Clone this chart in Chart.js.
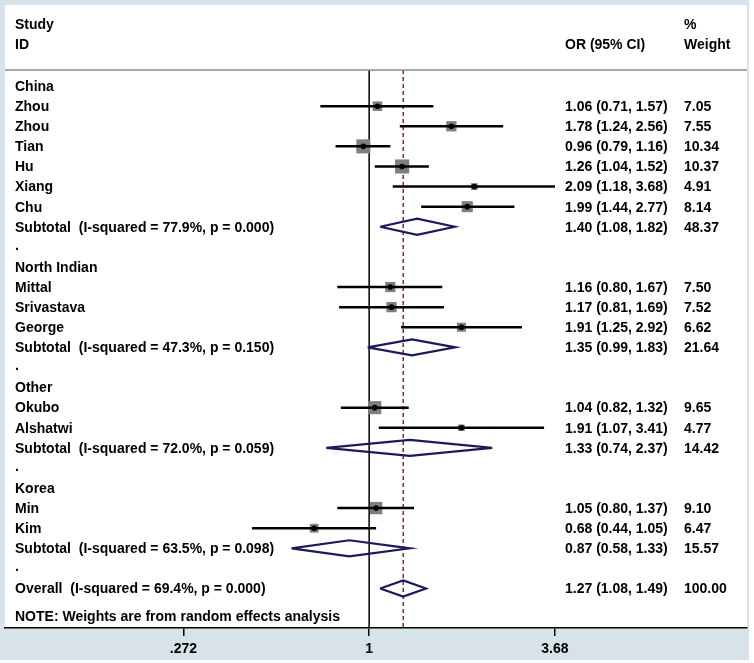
<!DOCTYPE html>
<html>
<head>
<meta charset="utf-8">
<script src="https://cdn.jsdelivr.net/npm/chart.js@4.4.0/dist/chart.umd.min.js"></script>
<style>
  html, body { margin: 0; padding: 0; background: #fff; }
  #wrap { width: 754px; height: 663px; }
</style>
</head>
<body>
<div id="wrap"><canvas id="forest" width="754" height="663"></canvas></div>
<script>
// study level estimates (OR, 95% CI, % weight)
const studyNames = ["Zhou", "Zhou", "Tian", "Hu", "Xiang", "Chu", "Mittal", "Srivastava", "George", "Okubo", "Alshatwi", "Min", "Kim"];
const studyGroup = [0, 0, 0, 0, 0, 0, 1, 1, 1, 2, 2, 3, 3];
const studyOR = [1.06, 1.78, 0.96, 1.26, 2.09, 1.99, 1.16, 1.17, 1.91, 1.04, 1.91, 1.05, 0.68];
const studyLow = [0.71, 1.24, 0.79, 1.04, 1.18, 1.44, 0.80, 0.81, 1.25, 0.82, 1.07, 0.80, 0.44];
const studyHigh = [1.57, 2.56, 1.16, 1.52, 3.68, 2.77, 1.67, 1.69, 2.92, 1.32, 3.41, 1.37, 1.05];
const studyWeight = [7.05, 7.55, 10.34, 10.37, 4.91, 8.14, 7.50, 7.52, 6.62, 9.65, 4.77, 9.10, 6.47];

// subgroup pooled estimates
const groupNames = ["China", "North Indian", "Other", "Korea"];
const groupI2 = [77.9, 47.3, 72.0, 63.5];
const groupP = ["0.000", "0.150", "0.059", "0.098"];
const groupOR = [1.40, 1.35, 1.33, 0.87];
const groupLow = [1.08, 0.99, 0.74, 0.58];
const groupHigh = [1.82, 1.83, 2.37, 1.33];
const groupWeight = [48.37, 21.64, 14.42, 15.57];

// overall pooled estimate
const overallOR = 1.27;
const overallLow = 1.08;
const overallHigh = 1.49;
const overallI2 = 69.4;
const overallP = "0.000";
const overallWeight = 100.00;

// x axis ticks
const tickValues = [0.272, 1, 3.68];
const tickLabels = [".272", "1", "3.68"];

const FONT = "'Liberation Sans', Arial, sans-serif";
const NAVY = "#1b1b5b";

//build the row layout: group header, studies, subtotal, spacer ... overall
const rows = [];
groupNames.forEach((name, g) => {
  rows.push({ kind: "head", g });
  studyNames.forEach((s, i) => {
    if (studyGroup[i] === g) rows.push({ kind: "study", i });
  });
  rows.push({ kind: "sub", g });
  rows.push({ kind: "gap" });
});
rows.push({ kind: "overall" });

const studyRow = studyNames.map((s, i) => rows.findIndex((r) => r.kind === "study" && r.i === i));
const groupRow = groupNames.map((s, g) => rows.findIndex((r) => r.kind === "sub" && r.g === g));
const overallRow = rows.length - 1;

const Y_MIN = -0.8;
const Y_MAX = overallRow + 1.965;
const X_MIN = 0.0778;
const X_MAX = 14.15;

const fmt = (v) => v.toFixed(2);
const ciText = (o, l, h) => `${fmt(o)} (${fmt(l)}, ${fmt(h)})`;

// diamond outline for a pooled estimate
function diamond(o, l, h, r) {
  const d = 0.4;
  return [
    { x: l, y: r },
    { x: o, y: r - d },
    { x: h, y: r },
    { x: o, y: r + d },
    { x: l, y: r },
  ];
}

const datasets = [];

// centre dots
datasets.push({
  data: studyOR.map((v, i) => ({ x: v, y: studyRow[i] })),
  pointStyle: "circle",
  pointRadius: 2.8,
  backgroundColor: "#000",
  borderWidth: 0,
  order: 0,
});

// confidence interval lines
studyOR.forEach((v, i) => {
  datasets.push({
    data: [
      { x: studyLow[i], y: studyRow[i] },
      { x: studyHigh[i], y: studyRow[i] },
    ],
    showLine: true,
    borderColor: "#000",
    borderWidth: 2.5,
    pointRadius: 0,
    order: 1,
  });
});

// pooled diamonds
groupOR.forEach((v, g) => {
  datasets.push({
    data: diamond(v, groupLow[g], groupHigh[g], groupRow[g]),
    showLine: true,
    borderColor: NAVY,
    borderWidth: 2.2,
    pointRadius: 0,
    order: 1,
  });
});
datasets.push({
  data: diamond(overallOR, overallLow, overallHigh, overallRow),
  showLine: true,
  borderColor: NAVY,
  borderWidth: 2.2,
  pointRadius: 0,
  order: 1,
});

// weight boxes
datasets.push({
  data: studyOR.map((v, i) => ({ x: v, y: studyRow[i] })),
  pointStyle: "rect",
  pointRadius: studyWeight.map((w) => (1.36 * w) / Math.SQRT2),
  backgroundColor: "#7f7f7f",
  borderWidth: 0,
  order: 2,
});

// null line and overall line
datasets.push({
  data: [{ x: 1, y: Y_MIN }, { x: 1, y: Y_MAX }],
  showLine: true,
  borderColor: "#000",
  borderWidth: 1.5,
  pointRadius: 0,
  order: 3,
});
datasets.push({
  data: [{ x: overallOR, y: Y_MIN }, { x: overallOR, y: Y_MAX }],
  showLine: true,
  borderColor: "#8b2433",
  borderWidth: 1.5,
  borderDash: [4, 3],
  pointRadius: 0,
  order: 3,
});

//panel background (stata style graph region)
const backgroundPlugin = {
  id: "panelBackground",
  beforeDraw(chart) {
    const { ctx, chartArea } = chart;
    ctx.save();
    ctx.fillStyle = "#fff";
    ctx.fillRect(0, 0, chart.width, chart.height);
    ctx.fillStyle = "#d7e3e8";
    ctx.fillRect(0, 0, 749, 660);
    ctx.fillStyle = "#fff";
    ctx.fillRect(chartArea.left, 5, chartArea.right - chartArea.left, chartArea.bottom - 5);
    ctx.restore();
  },
};

//left labels and right-hand columns
const textPlugin = {
  id: "forestText",
  afterDraw(chart) {
    const { ctx, chartArea, scales } = chart;
    const y = (r) => scales.y.getPixelForValue(r);
    const colLabel = 15;
    const colCI = 565;
    const colW = 684;
    ctx.save();
    ctx.font = `bold 14px ${FONT}`;
    ctx.fillStyle = "#000";
    ctx.textBaseline = "middle";
    ctx.textAlign = "left";

    // header
    ctx.fillText("Study", colLabel, 25);
    ctx.fillText("ID", colLabel, 45);
    ctx.fillText("OR (95% CI)", colCI, 45);
    ctx.fillText("%", colW, 25);
    ctx.fillText("Weight", colW, 45);

    ctx.strokeStyle = "#8c8c8c";
    ctx.lineWidth = 1.5;
    ctx.beginPath();
    ctx.moveTo(chartArea.left, chartArea.top);
    ctx.lineTo(chartArea.right, chartArea.top);
    ctx.stroke();

    rows.forEach((r, k) => {
      const py = y(k) + 1;
      if (r.kind === "head") {
        ctx.fillText(groupNames[r.g], colLabel, py);
      } else if (r.kind === "study") {
        ctx.fillText(studyNames[r.i], colLabel, py);
        ctx.fillText(ciText(studyOR[r.i], studyLow[r.i], studyHigh[r.i]), colCI, py);
        ctx.fillText(fmt(studyWeight[r.i]), colW, py);
      } else if (r.kind === "sub") {
        ctx.fillText(`Subtotal  (I-squared = ${groupI2[r.g].toFixed(1)}%, p = ${groupP[r.g]})`, colLabel, py);
        ctx.fillText(ciText(groupOR[r.g], groupLow[r.g], groupHigh[r.g]), colCI, py);
        ctx.fillText(fmt(groupWeight[r.g]), colW, py);
      } else if (r.kind === "gap") {
        ctx.fillText(".", colLabel, py - 2);
      } else if (r.kind === "overall") {
        ctx.fillText(`Overall  (I-squared = ${overallI2.toFixed(1)}%, p = ${overallP})`, colLabel, py);
        ctx.fillText(ciText(overallOR, overallLow, overallHigh), colCI, py);
        ctx.fillText(fmt(overallWeight), colW, py);
      }
    });
    ctx.fillText("NOTE: Weights are from random effects analysis", colLabel, y(overallRow) + 29);
    ctx.restore();
  },
};

new Chart(document.getElementById("forest"), {
  type: "scatter",
  data: { datasets },
  options: {
    responsive: false,
    animation: false,
    events: [],
    layout: { autoPadding: false, padding: { left: 5, right: 7, top: 70, bottom: 0 } },
    plugins: { legend: { display: false }, tooltip: { enabled: false } },
    scales: {
      x: {
        type: "logarithmic",
        min: X_MIN,
        max: X_MAX,
        bounds: "data",
        afterBuildTicks: (s) => {
          s.ticks = tickValues.map((v) => ({ value: v }));
        },
        afterFit: (s) => {
          s.height = 35;
          s.paddingLeft = 0;
          s.paddingRight = 0;
        },
        ticks: {
          autoSkip: false,
          maxRotation: 0,
          padding: 5,
          color: "#000",
          font: { family: FONT, size: 14, weight: "bold" },
          callback: (v) => tickLabels[tickValues.indexOf(v)],
        },
        grid: { drawOnChartArea: false, drawTicks: true, tickLength: 8, color: "#000", lineWidth: 1.5 },
        border: { display: true, color: "#000", width: 1.5 },
      },
      y: {
        type: "linear",
        display: false,
        reverse: true,
        min: Y_MIN,
        max: Y_MAX,
      },
    },
  },
  plugins: [backgroundPlugin, textPlugin],
});
</script>
</body>
</html>
